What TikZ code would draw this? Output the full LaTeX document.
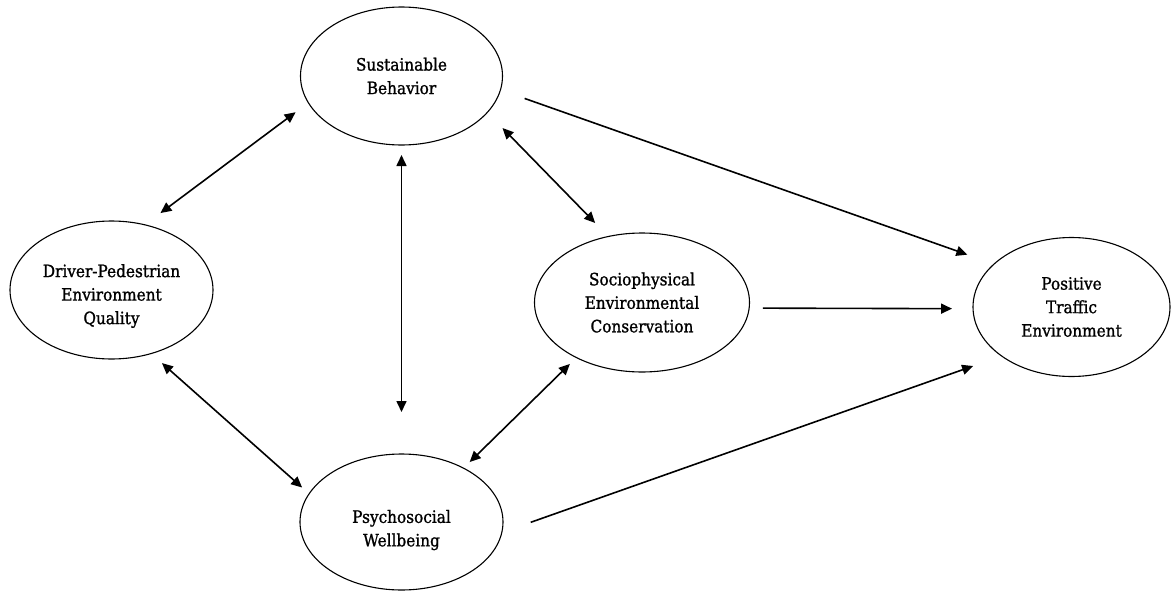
\documentclass[tikz,border=0pt]{standalone}
\usepackage{fontspec}
\setmainfont{DejaVu Serif}[FakeStretch=0.9,FakeBold=1.2]
\usetikzlibrary{arrows.meta,shapes.geometric}
\begin{document}
\begin{tikzpicture}[x=1pt,y=-1pt,
  construct/.style={ellipse, draw, line width=1.1pt, inner sep=0pt, outer sep=0pt,
    align=center, font=\fontsize{17}{23.5}\selectfont},
  link/.style={line width=1.6pt, -{Triangle[length=11pt,width=10pt]}},
  both/.style={line width=1.6pt, {Triangle[length=11pt,width=10pt]}-{Triangle[length=11pt,width=10pt]}}
]
\useasboundingbox (0,0) rectangle (1171,592);

% constructs (a tall strut on the first line sets the text a little lower)
\node[construct, minimum width=202pt, minimum height=138pt] (sb) at (401.5,76) {Sustainable\\Behavior};
\node[construct, minimum width=203pt, minimum height=138pt] (dq) at (111.5,290) {\rule{0pt}{25pt}Driver-Pedestrian\\Environment\\Quality};
\node[construct, minimum width=215pt, minimum height=139pt] (sc) at (642,302.5) {Sociophysical\\Environmental\\Conservation};
\node[construct, minimum width=197pt, minimum height=139pt] (pt) at (1071.5,307) {Positive\\Traffic\\Environment};
\node[construct, minimum width=203pt, minimum height=136pt] (pw) at (401.5,522) {\rule{0pt}{29pt}Psychosocial\\Wellbeing};

% correlations
\draw[both, shorten <=15.9pt, shorten >=19.6pt] (sb.196) -- (dq.63);
\draw[both, shorten <=10pt, shorten >=42pt] (sb.south) -- (pw.north);
\draw[both, shorten <=21.8pt, shorten >=18.9pt] (sb.337) -- (sc.117);
\draw[both, shorten <=14.4pt, shorten >=9.4pt] (dq.302) -- (pw.163);
\draw[both, shorten <=9.1pt, shorten >=8.7pt] (sc.220) -- (pw.41);

% directed paths
\draw[link, shorten <=25.7pt, shorten >=28.3pt] (sb.352) -- (pt.151);
\draw[link, shorten <=13.8pt, shorten >=21pt] (sc.357) -- (pt.181);
\draw[link, shorten <=30.7pt, shorten >=30.2pt] (pw.354) -- (pt.215);
\end{tikzpicture}
\end{document}
